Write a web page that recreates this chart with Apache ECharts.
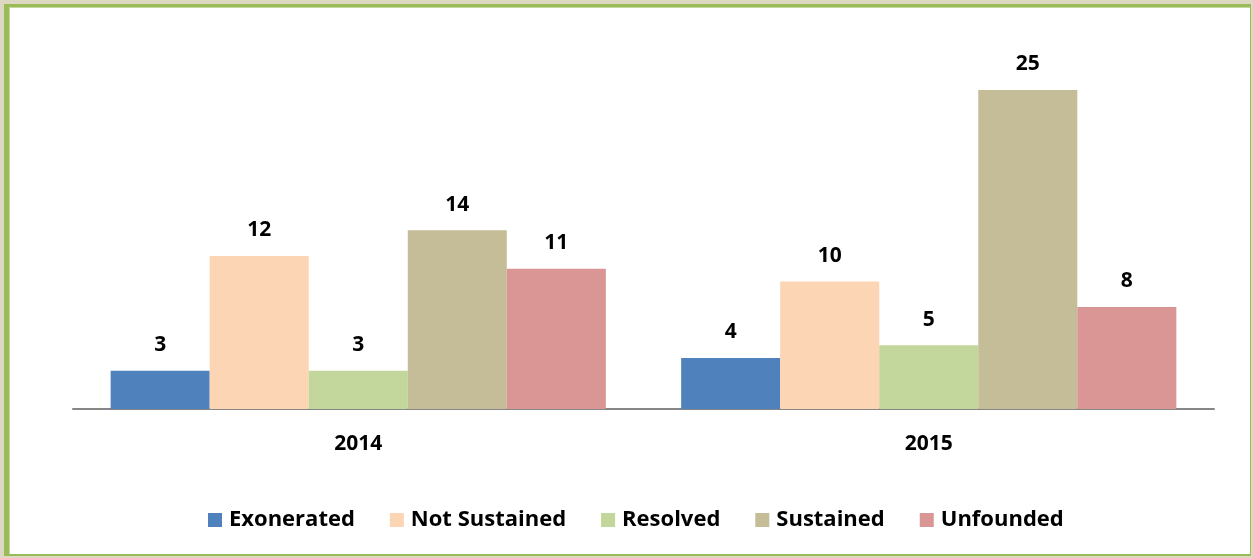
<!DOCTYPE html>
<html><head><meta charset="utf-8">
<script src="https://cdn.jsdelivr.net/npm/echarts@6/dist/echarts.min.js"></script>
<style>
html,body{margin:0;padding:0;width:1253px;height:558px;background:#ddd8c2;overflow:hidden;}
#frame{position:absolute;left:4px;top:4px;width:1247px;height:552px;background:#9bbb59;}
#inner{position:absolute;left:5px;top:3px;width:1241px;height:547px;background:#fff;border-left:1px solid #c3d69b;border-top:1px solid #c3d69b;box-sizing:border-box;}
#chart{position:absolute;left:0;top:0;width:1253px;height:558px;}
</style></head>
<body>
<div id="frame"><div id="inner"></div></div>
<div id="chart"></div>
<script>
const categories = ['2014', '2015'];
const seriesNames = ['Exonerated', 'Not Sustained', 'Resolved', 'Sustained', 'Unfounded'];
const exonerated = [3, 4];
const notSustained = [12, 10];
const resolved = [3, 5];
const sustained = [14, 25];
const unfounded = [11, 8];
const colors = ['#4f81bd', '#fcd5b5', '#c3d69b', '#c4bd97', '#d99694'];
const values = [exonerated, notSustained, resolved, sustained, unfounded];

const font = '"Open Sans", sans-serif';
const chart = echarts.init(document.getElementById('chart'), null, {renderer: 'canvas'});
chart.setOption({
  animation: false,
  backgroundColor: 'transparent',
  grid: {left: 73, right: 39, top: 90, bottom: 149},
  legend: {
    data: seriesNames,
    top: 504,
    left: 203,
    itemWidth: 14,
    itemHeight: 14,
    itemGap: 35,
    icon: 'rect',
    textStyle: {fontFamily: font, fontWeight: 'bold', fontSize: 22, color: '#000', padding: [0, 0, 0, 2]}
  },
  xAxis: {
    type: 'category',
    data: categories,
    axisLine: {lineStyle: {color: '#868686', width: 2}},
    axisTick: {show: false},
    axisLabel: {fontFamily: font, fontWeight: 'bold', fontSize: 21, color: '#000', margin: 25}
  },
  yAxis: {
    type: 'value', min: 0, max: 25,
    show: false,
    splitLine: {show: false}
  },
  series: seriesNames.map((n, i) => ({
    name: n,
    type: 'bar',
    data: values[i],
    barGap: '0%',
    barCategoryGap: '13.2%',
    itemStyle: {color: colors[i]},
    label: {show: true, position: 'top', distance: 15, fontFamily: font, fontWeight: 'bold', fontSize: 21, color: '#000'}
  }))
});
</script>
</body></html>
